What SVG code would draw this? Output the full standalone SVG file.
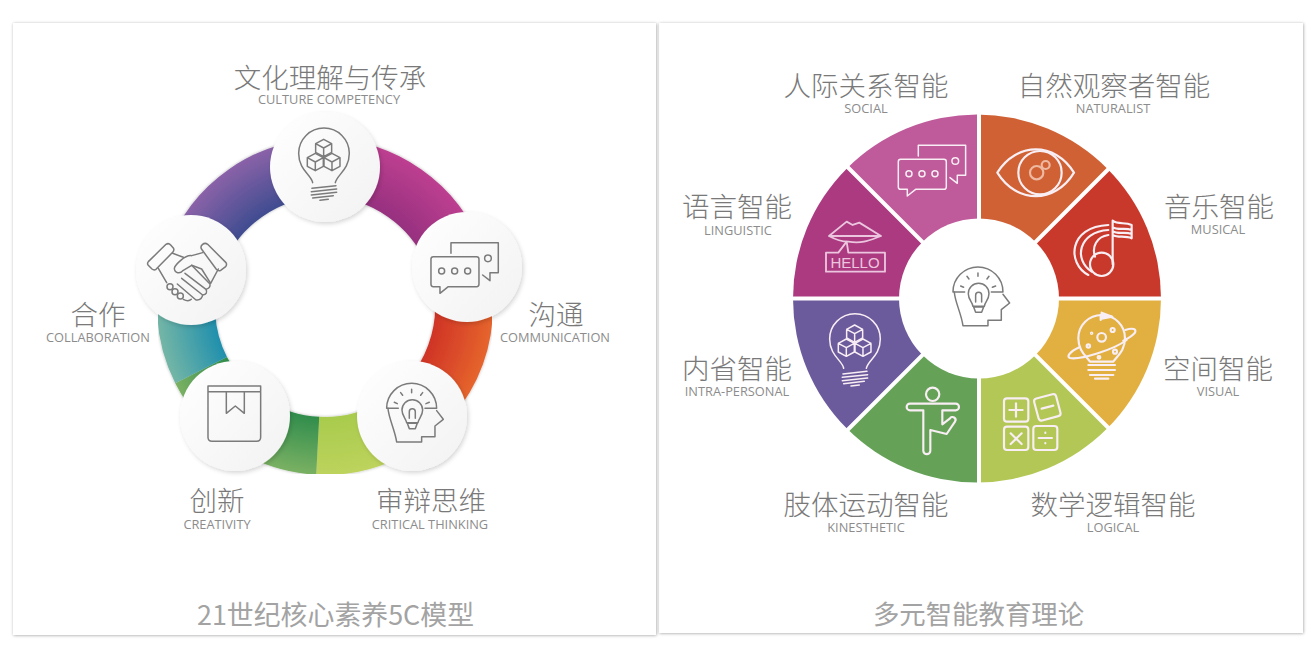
<svg xmlns="http://www.w3.org/2000/svg" width="1314" height="648" viewBox="0 0 1314 648">
<style>
.zh{font-family:"Noto Sans CJK SC","Noto Sans",sans-serif;font-size:27.5px;font-weight:300;fill:#797979;text-anchor:middle}
.en{font-family:"Open Sans","Liberation Sans",sans-serif;font-size:12.8px;fill:#8c8c8c;text-anchor:middle}
.ft{font-family:"Noto Sans CJK SC","Noto Sans",sans-serif;font-size:26.4px;fill:#a3a3a3;text-anchor:middle}
.ln{fill:none;stroke:currentColor;stroke-width:4.5;stroke-linecap:round;stroke-linejoin:round}
.gray{color:#7b7b7b}
.lite{color:#f8eef4;stroke-width:6.5}
.lite .ln{stroke-width:6.5}
.seg{fill:none;stroke-width:58}
.disc{fill:url(#disc);filter:url(#ds)}
.panel{fill:#fff;filter:url(#ps)}
.gap{stroke:#fff;stroke-width:4}
.wedge{clip-path:url(#pieClip)}
</style>
<defs>
<clipPath id="pieClip"><circle cx="977" cy="298.500" r="184"/></clipPath>
<filter id="ps" x="-3%" y="-3%" width="106%" height="106%"><feDropShadow dx="0.5" dy="0.5" stdDeviation="1.5" flood-color="#000" flood-opacity=".35"/></filter>
<filter id="ds" x="-20%" y="-20%" width="140%" height="140%"><feDropShadow dx="1.500" dy="2" stdDeviation="2.200" flood-color="#000" flood-opacity=".16"/></filter>
<filter id="rs" x="-10%" y="-10%" width="120%" height="120%"><feDropShadow dx="0" dy="0" stdDeviation="1.5" flood-color="#000" flood-opacity=".3"/></filter>
<linearGradient id="disc" x1="0" y1="0" x2="1" y2="1"><stop offset="0" stop-color="#fff"/><stop offset="1" stop-color="#f2f2f3"/></linearGradient>
<radialGradient id="gP" gradientUnits="userSpaceOnUse" cx="325" cy="307" r="168"><stop offset=".65" stop-color="#3f4c90"/><stop offset="1" stop-color="#8a62a8"/></radialGradient>
<radialGradient id="gM" gradientUnits="userSpaceOnUse" cx="325" cy="307" r="168"><stop offset=".65" stop-color="#96307f"/><stop offset="1" stop-color="#bd3f90"/></radialGradient>
<radialGradient id="gO" gradientUnits="userSpaceOnUse" cx="325" cy="307" r="168"><stop offset=".65" stop-color="#cf3226"/><stop offset="1" stop-color="#e6652d"/></radialGradient>
<radialGradient id="gL" gradientUnits="userSpaceOnUse" cx="325" cy="307" r="168"><stop offset=".65" stop-color="#a8cb4d"/><stop offset="1" stop-color="#bdd35c"/></radialGradient>
<radialGradient id="gG" gradientUnits="userSpaceOnUse" cx="325" cy="307" r="168"><stop offset=".65" stop-color="#2f8c4c"/><stop offset="1" stop-color="#7ab163"/></radialGradient>
<radialGradient id="gT" gradientUnits="userSpaceOnUse" cx="325" cy="307" r="168"><stop offset=".65" stop-color="#1f8fad"/><stop offset="1" stop-color="#74b6a6"/></radialGradient>
<path id="cube" d="M0 -26L24 -13V13L0 26L-24 13V-13ZM-24 -13L0 0L24 -13M0 0V26"/>
<g id="iBulb" class="ln">
<path d="M578 278C575 255 536 240 536 190A76 76 0 0 1 688 190C688 240 650 255 646 278"/>
<use href="#cube" x="611" y="174"/><use href="#cube" x="586" y="216"/><use href="#cube" x="636" y="216"/>
<path d="M576 295L648 287M574 305L650 297M574 315L650 307M578 324L640 317M600 331L625 328"/>
</g>
<g id="iChat" class="ln">
<path d="M993 490V458H1135V548H1110V572L1088 555"/>
<path d="M940 500H1070Q1077 500 1077 507V583Q1077 590 1070 590H985L960 610V590H940Q933 590 933 583V507Q933 500 940 500Z"/>
<circle cx="965" cy="543" r="9"/><circle cx="1004" cy="543" r="9"/><circle cx="1043" cy="543" r="9"/><circle cx="1104" cy="505" r="10"/>
</g>
<g id="iHead" class="ln">
<path d="M800 955A75 75 0 0 1 950 955M800 955H835M915 955H950"/>
<path d="M804 955C806 985 825 1020 830 1056H905V1040H945V1008L970 988L950 962"/>
<path d="M860 998C858 985 846 978 846 960A31 31 0 0 1 908 960C908 978 896 985 894 998Z"/>
<path d="M862 1000H892L886 1016H868ZM868 985V965A9 9 0 0 1 886 965V985"/>
<path d="M823 937L832 941M842 908L848 916M875 898V908M908 908L902 916M928 937L918 941"/>
</g>
</defs>

<g id="panel-right"><rect class="panel" x="659" y="23" width="644" height="610"/></g>
<g id="panel-left"><rect class="panel" x="13" y="23" width="643" height="612"/></g>

<g id="ring" filter="url(#rs)">
<path class="seg" stroke="url(#gP)" d="M194.4 259.5A139 139 0 0 1 325 168"/>
<path class="seg" stroke="url(#gM)" d="M325 168A139 139 0 0 1 455.6 259.5"/>
<path class="seg" stroke="url(#gO)" d="M455.6 259.5A139 139 0 0 1 394.5 427.4"/>
<path class="seg" stroke="url(#gL)" d="M394.5 427.4A139 139 0 0 1 317.7 445.8"/>
<path class="seg" stroke="url(#gG)" d="M317.7 445.8A139 139 0 0 1 201.1 370.1"/>
<path class="seg" stroke="url(#gT)" d="M201.1 370.1A139 139 0 0 1 194.4 259.5"/>
</g>

<g id="node-culture"><circle class="disc" cx="325" cy="167" r="55"/><use href="#iBulb" class="gray" transform="translate(120 90) scale(.3333)"/>
<text class="zh" x="330" y="88">文化理解与传承</text><text class="en" x="329" y="103.500">CULTURE COMPETENCY</text></g>
<g id="node-communication"><circle class="disc" cx="467" cy="267" r="55"/><use href="#iChat" class="gray" transform="translate(120 90) scale(.3333)"/>
<text class="zh" x="556" y="325">沟通</text><text class="en" x="555" y="341.500">COMMUNICATION</text></g>
<g id="node-critical"><circle class="disc" cx="412" cy="416" r="55"/><use href="#iHead" class="gray" transform="translate(120 90) scale(.3333)"/>
<text class="zh" x="431" y="511">审辩思维</text><text class="en" x="430" y="528.500">CRITICAL THINKING</text></g>
<g id="node-creativity"><circle class="disc" cx="235" cy="416" r="55"/>
<g class="gray ln" transform="translate(120 90) scale(.3333)"><path d="M264 888H422M264 905H422M264 888V1042Q264 1054 276 1054H410Q422 1054 422 1042V888M319 905V970L346 948L373 970V905"/></g>
<text class="zh" x="217" y="511">创新</text><text class="en" x="217" y="528.500">CREATIVITY</text></g>
<g id="node-collaboration"><circle class="disc" cx="191" cy="270" r="55"/>
<g class="gray ln" transform="translate(120 90) scale(.3333)">
<path d="M85 515L138 463Q146 458 152 465L160 474Q164 480 158 487L108 538Q102 542 96 537L84 525Q81 520 85 515Z"/>
<path d="M245 478Q240 470 247 464Q255 457 263 463L318 518Q322 525 316 531L302 541Q296 545 289 538Z"/>
<path d="M115 535L140 578M158 490L190 502M248 488L215 497C195 494 165 525 163 535C164 550 180 553 190 541L215 526L245 537M245 537L272 580L295 537"/>
<path d="M215 526L270 582Q272 595 258 598L195 550M258 598Q265 612 248 615L185 565M248 615Q245 632 228 630L172 582"/>
<circle cx="150" cy="590" r="9"/><circle cx="165" cy="605" r="9"/><circle cx="181" cy="618" r="9"/><path d="M190 628Q205 636 214 628"/>
</g>
<text class="zh" x="98" y="325">合作</text><text class="en" x="98" y="341.500">COLLABORATION</text></g>

<g id="connectors"></g>

<g id="pie">
<g id="w-naturalist"><path class="wedge" fill="#cf6135" d="M979 298.500V98.500H1179Z"/>
<g class="lite ln" transform="translate(980 100) scale(.3333)"><path d="M52 218C110 125 225 125 282 218C225 312 110 312 52 218Z"/><circle cx="180" cy="218" r="65"/><circle cx="170" cy="218" r="20" stroke="#eeb9a0"/><circle cx="197" cy="195" r="12" stroke="#eeb9a0"/></g>
<text class="zh" x="1114" y="96">自然观察者智能</text><text class="en" x="1113" y="112.500">NATURALIST</text></g>
<g id="w-musical"><path class="wedge" fill="#c9392b" d="M979 298.500L1179 98.500V298.500Z"/>
<g class="lite ln" transform="translate(980 100) scale(.3333)"><circle cx="365" cy="493" r="35"/><path d="M398 493V362C415 375 435 365 455 375V415C435 405 415 415 398 405M398 382C415 392 435 382 455 390M398 394C415 404 435 394 455 402"/><path d="M325 525C260 490 265 380 385 375M335 515C280 480 295 395 385 390M345 470C335 440 350 410 385 405"/></g>
<text class="zh" x="1219" y="217">音乐智能</text><text class="en" x="1218" y="233.500">MUSICAL</text></g>
<g id="w-visual"><path class="wedge" fill="#e2b040" d="M979 298.500H1179V498.500Z"/>
<g class="lite ln" transform="translate(980 290) scale(.3333)"><path d="M330 215C315 195 295 180 295 145A70 70 0 0 1 435 145C435 180 415 195 400 215Z"/><path d="M325 225H405M325 240H405M330 255H400M345 266H385M362 75V90"/><path fill="currentColor" d="M365 68L397 80L365 86Z"/><path d="M298 172C270 185 258 200 270 204C300 210 400 180 440 150M436 120C460 112 470 118 465 128C460 135 445 145 430 152"/><circle cx="365" cy="142" r="13"/><circle cx="398" cy="120" r="6"/><circle cx="405" cy="185" r="6"/><circle cx="325" cy="168" r="5"/><circle cx="357" cy="202" r="4"/><circle cx="335" cy="130" r="2"/></g>
<text class="zh" x="1218" y="379">空间智能</text><text class="en" x="1218" y="395.500">VISUAL</text></g>
<g id="w-logical"><path class="wedge" fill="#b3c756" d="M979 298.500L1179 498.500H979Z"/>
<g class="lite ln" transform="translate(980 290) scale(.3333)"><rect x="72" y="325" width="73" height="70" rx="9"/><path d="M108 340V380M88 360H128"/><rect x="168" y="318" width="68" height="68" rx="9" transform="rotate(-15 202 352)"/><path d="M185 356L220 347"/><rect x="72" y="410" width="73" height="70" rx="9"/><path d="M92 430L125 462M125 430L92 462"/><rect x="160" y="408" width="72" height="72" rx="9"/><path d="M176 444H216M196 428V429M196 459V460"/></g>
<text class="zh" x="1113" y="515">数学逻辑智能</text><text class="en" x="1113" y="531.500">LOGICAL</text></g>
<g id="w-kinesthetic"><path class="wedge" fill="#65a258" d="M979 298.500V498.500H779Z"/>
<g class="lite ln" transform="translate(780 290) scale(.3333)"><circle cx="458" cy="313" r="20"/><path d="M390 341H527A10 10 0 0 1 527 361H487V403L510 385A9 9 0 0 1 525 395L500 432L451 420V482A10 10 0 0 1 430 482V361H390A10 10 0 0 1 390 341Z"/></g>
<text class="zh" x="866" y="515">肢体运动智能</text><text class="en" x="866" y="531.500">KINESTHETIC</text></g>
<g id="w-intra"><path class="wedge" fill="#6c5b9c" d="M979 298.500L779 498.500V298.500Z"/>
<use href="#iBulb" class="lite" transform="translate(651 275.67) scale(.3333)"/>
<text class="zh" x="737" y="379">内省智能</text><text class="en" x="737" y="395.500">INTRA-PERSONAL</text></g>
<g id="w-linguistic"><path class="wedge" fill="#ab3a80" d="M979 298.500H779V98.500Z"/>
<g class="ln" style="color:#ecc6de;stroke-width:5.500" transform="translate(780 100) scale(.3333)"><path d="M147 408L200 365L218 375L238 368L303 408C270 420 250 432 205 425C185 425 165 418 147 408ZM147 408H303"/><path d="M138 458H175L200 425L205 458H315V515H138Z"/></g>
<text x="855" y="267.500" font-family="Liberation Sans, sans-serif" font-size="15" fill="#ecc6de" text-anchor="middle">HELLO</text>
<text class="zh" x="737" y="217">语言智能</text><text class="en" x="738" y="234.500">LINGUISTIC</text></g>
<g id="w-social"><path class="wedge" fill="#bf5a9b" d="M979 298.500L779 98.500H979Z"/>
<use href="#iChat" class="lite" transform="translate(587.33 -7.33) scale(.3333)"/>
<text class="zh" x="866" y="96">人际关系智能</text><text class="en" x="866" y="112.500">SOCIAL</text></g>
<g id="gaps"><path class="gap" d="M979 100V498M770 298.500H1190M800 119.500L1159 478.500M800 477.500L1159 118.500"/></g>
<g id="w-center"><circle cx="979" cy="298.500" r="80" fill="#fff"/><use href="#iHead" class="gray" transform="translate(686.33 -26.33) scale(.3333)"/></g>
</g>

<text class="ft" x="335.500" y="625" style="font-size:26.900px">21世纪核心素养5C模型</text>
<text class="ft" x="978.500" y="624">多元智能教育理论</text>
</svg>
